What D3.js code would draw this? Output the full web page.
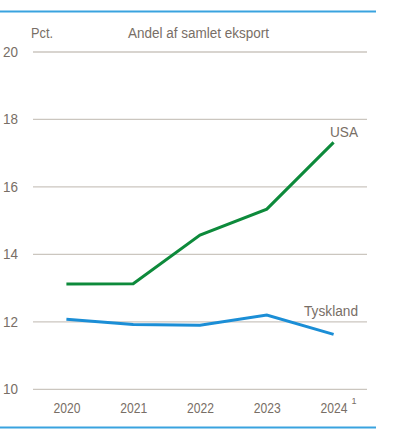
<!DOCTYPE html>
<html>
<head>
<meta charset="utf-8">
<script src="https://cdn.jsdelivr.net/npm/d3@7"></script>
<style>
  body { margin: 0; background: #fff; }
  text { font-family: "Liberation Sans", Arial, sans-serif; fill: #786e66; }
</style>
</head>
<body>
<svg id="chart" width="405" height="434"></svg>
<script>
// data
var years = ["2020", "2021", "2022", "2023", "2024"];
var usa = [13.12, 13.13, 14.57, 15.34, 17.32];
var tyskland = [12.08, 11.92, 11.90, 12.20, 11.63];
var yTicks = [10, 12, 14, 16, 18, 20];

var svg = d3.select("#chart");

var plotLeft = 33, plotRight = 367, plotTop = 52, plotBottom = 389.3;

// x: points for each year
var xScale = d3.scalePoint().domain(years).range([plotLeft, plotRight]).padding(0.5);
var yScale = d3.scaleLinear().domain([10, 20]).range([plotBottom, plotTop]);

// blue rules top and bottom
svg.append("line").attr("x1", 0).attr("x2", 376).attr("y1", 11.5).attr("y2", 11.5)
	.attr("stroke", "#3aa3df").attr("stroke-width", 2);
svg.append("line").attr("x1", 0).attr("x2", 376).attr("y1", 427.5).attr("y2", 427.5)
	.attr("stroke", "#3aa3df").attr("stroke-width", 2);

// gridlines
svg.append("g").selectAll("line").data(yTicks).enter().append("line")
	.attr("x1", plotLeft).attr("x2", plotRight)
	.attr("y1", d => yScale(d)).attr("y2", d => yScale(d))
	.attr("stroke", "#cbc6bf").attr("stroke-width", 1.3);

// y labels
svg.append("g").selectAll("text").data(yTicks).enter().append("text")
	.attr("x", 3).attr("y", d => yScale(d))
	.attr("dy", "0.35em")
	.attr("font-size", 14)
	.attr("textLength", 15).attr("lengthAdjust", "spacingAndGlyphs")
	.text(d => d);

// x labels via axis
var xAxis = svg.append("g").attr("transform", "translate(0," + 402 + ")")
	.call(d3.axisBottom(xScale).tickSize(0).tickPadding(0));
xAxis.select(".domain").remove();
xAxis.attr("font-family", null).attr("font-size", null);
xAxis.selectAll("text")
	.attr("font-size", 14).attr("dy", "0.35em").attr("y", 6)
	.attr("textLength", 27).attr("lengthAdjust", "spacingAndGlyphs")
	.attr("fill", null);
xAxis.selectAll(".tick").filter(d => d === "2024")
	.append("text").attr("x", 20).attr("y", 2).attr("font-size", 9).text("1");

// titles
svg.append("text").attr("x", 31).attr("y", 33).attr("dy", "0.35em")
	.attr("font-size", 14).attr("textLength", 22).attr("lengthAdjust", "spacingAndGlyphs").text("Pct.");
svg.append("text").attr("x", 128).attr("y", 33).attr("dy", "0.35em")
	.attr("font-size", 14).attr("textLength", 141).attr("lengthAdjust", "spacingAndGlyphs")
	.text("Andel af samlet eksport");

// lines
var line = d3.line().x((d, i) => xScale(years[i])).y(d => yScale(d));

svg.append("path").datum(tyskland).attr("d", line)
	.attr("fill", "none").attr("stroke", "#1b8ed6").attr("stroke-width", 3);
svg.append("path").datum(usa).attr("d", line)
	.attr("fill", "none").attr("stroke", "#0d8a3b").attr("stroke-width", 3);

// series labels
svg.append("text").attr("x", 330).attr("y", 132).attr("dy", "0.35em")
	.attr("font-size", 14).attr("textLength", 28).attr("lengthAdjust", "spacingAndGlyphs").text("USA");
svg.append("text").attr("x", 304).attr("y", 311.5).attr("dy", "0.35em")
	.attr("font-size", 14).attr("textLength", 54).attr("lengthAdjust", "spacingAndGlyphs").text("Tyskland");
</script>
</body>
</html>
